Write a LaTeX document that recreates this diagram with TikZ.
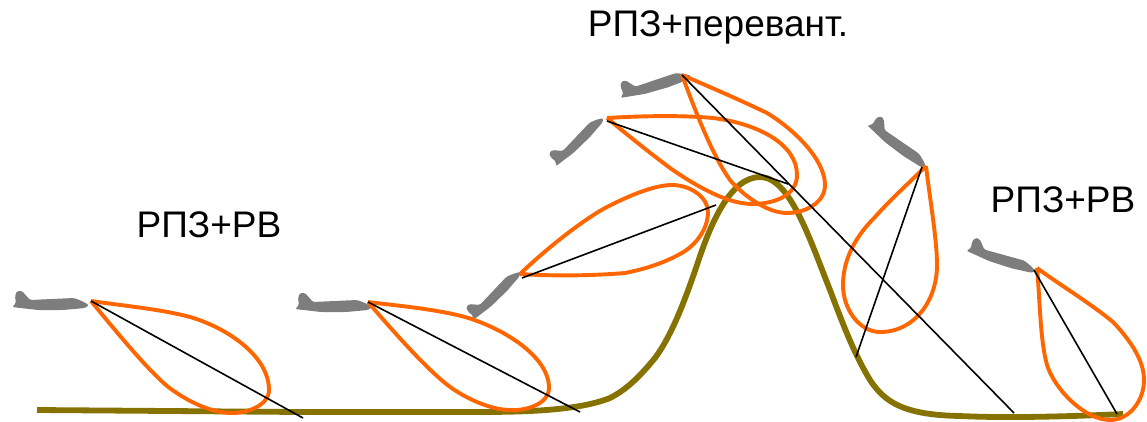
\documentclass[tikz,border=0pt]{standalone}
\usepackage{fontspec}
\setmainfont{Liberation Sans}
\definecolor{groundolive}{RGB}{133,114,0}
\definecolor{lobeorange}{RGB}{255,102,0}
\definecolor{planegray}{RGB}{125,125,125}
\tikzset{
  x=1pt,y=-1pt,
  lobe/.style={draw=lobeorange,line width=3.9pt,line join=round},
  terrain/.style={draw=groundolive,line width=5.8pt},
  beam/.style={draw=black,line width=1.6pt},
  label/.style={font=\fontsize{37}{42}\selectfont,inner sep=0pt,text=black},
  pics/aircraft/.style={code={
    \fill[planegray,rounded corners=1.5pt]
      (-73,-8)--(-71,-13)--(-66,-13)--(-58,-4)--(-14,-6)--(-6,-3)--(1,1)--(-3,4)
      --(-25,6)--(-50,6)--(-76,3)--(-72,-1)--cycle;
  }}
}
\begin{document}
\begin{tikzpicture}
\useasboundingbox (0,0) rectangle (1147,422);

% Terrain profile with the ridge
\draw[terrain] (37,410) -- (300,412) -- (480,412)
  .. controls (530,412) and (580,410) .. (610,398)
  .. controls (630,388) and (645,370) .. (655,358)
  .. controls (672,335) and (685,300) .. (697,265)
  .. controls (710,225) and (730,177) .. (760,177)
  .. controls (790,177) and (810,240) .. (830,290)
  .. controls (845,330) and (855,355) .. (870,380)
  .. controls (885,403) and (905,415) .. (960,416)
  .. controls (1000,418) and (1060,417) .. (1123,414);

% Aircraft, positioned by the nose
\pic[scale=1.0] at (88,304) {aircraft};
\pic[scale=1.0] at (371,306) {aircraft};
\pic[rotate=44,scale=.88] at (519,272) {aircraft};
\pic[rotate=44,scale=.88] at (602,118) {aircraft};
\pic[rotate=16,scale=.96] at (690,75) {aircraft};
\pic[rotate=-37,scale=.94] at (926,166) {aircraft};
\pic[rotate=-18,scale=.94] at (1035,270) {aircraft};

% Radiation lobes
\draw[lobe] (91,301) .. controls (125,306) and (160,309) .. (190,317)
  .. controls (225,327) and (269,355) .. (269,390)
  .. controls (269,405) and (248,413) .. (232,413)
  .. controls (210,413) and (185,400) .. (167,386)
  .. controls (145,367) and (115,330) .. (91,301);
\draw[lobe] (368,302) .. controls (400,306) and (435,309) .. (465,317)
  .. controls (500,327) and (549,355) .. (549,388)
  .. controls (549,403) and (528,411) .. (510,410)
  .. controls (490,410) and (462,397) .. (445,383)
  .. controls (423,365) and (392,330) .. (368,302);
\draw[lobe] (520,274) .. controls (545,250) and (580,222) .. (605,208)
  .. controls (630,195) and (655,185) .. (672,185)
  .. controls (690,185) and (708,197) .. (708,212)
  .. controls (708,228) and (697,245) .. (680,254)
  .. controls (660,265) and (640,270) .. (625,273)
  .. controls (590,276) and (550,276) .. (520,274);
\draw[lobe] (607,118) .. controls (640,116) and (680,115) .. (713,118)
  .. controls (760,124) and (797,145) .. (797,175)
  .. controls (797,195) and (775,204) .. (752,204)
  .. controls (725,204) and (690,182) .. (670,168)
  .. controls (650,153) and (630,137) .. (607,118);
\draw[lobe] (682,75) .. controls (710,87) and (740,100) .. (767,113)
  .. controls (795,130) and (825,160) .. (825,185)
  .. controls (825,203) and (805,213) .. (787,213)
  .. controls (765,213) and (740,192) .. (730,180)
  .. controls (712,155) and (695,110) .. (682,75);
\draw[lobe] (926,166) .. controls (930,200) and (937,240) .. (937,265)
  .. controls (937,300) and (915,332) .. (880,332)
  .. controls (860,332) and (843,310) .. (843,285)
  .. controls (843,255) and (860,232) .. (875,217)
  .. controls (890,200) and (910,182) .. (926,166);
\draw[lobe] (1037,268) .. controls (1060,285) and (1090,303) .. (1113,322)
  .. controls (1130,340) and (1144,360) .. (1144,380)
  .. controls (1144,400) and (1130,420) .. (1110,420)
  .. controls (1085,420) and (1055,390) .. (1047,365)
  .. controls (1040,340) and (1040,300) .. (1037,268);

% Beam axes
\coordinate (b1s) at (91,301);    \coordinate (b1e) at (303,418);
\coordinate (b2s) at (368,302);   \coordinate (b2e) at (580,412);
\coordinate (b3s) at (522,278);   \coordinate (b3e) at (716,205);
\coordinate (b4s) at (607,121);   \coordinate (b4e) at (788,184);
\coordinate (b5s) at (682,75);    \coordinate (b5e) at (1014,413);
\coordinate (b6s) at (922,167);   \coordinate (b6e) at (856,357);
\coordinate (b7s) at (1034,270);  \coordinate (b7e) at (1117,414);
\foreach \n in {1,...,7} \draw[beam] (b\n s) -- (b\n e);

% Mode labels
\node[label] (modeA) at (209,225) {РПЗ+РВ};
\node[label] (modeB) at (718,27) {РПЗ+перевант.};
\node[label] (modeC) at (1063,200) {РПЗ+РВ};
\end{tikzpicture}
\end{document}
